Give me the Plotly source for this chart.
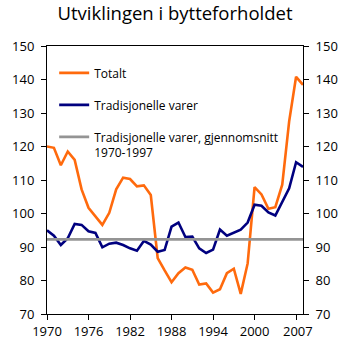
import plotly.graph_objects as go

years = list(range(1970, 2008))
totalt = [120, 119.6, 114.4, 118.5, 116, 107.2, 101.7, 99, 96.6, 100.2,
          107.2, 110.7, 110.3, 108.1, 108.4, 105.5, 86.7, 83, 79.5, 82.2,
          83.9, 83.2, 78.8, 79.1, 76.4, 77.4, 82.2, 83.5, 76.0, 85.1,
          107.9, 105.7, 101.4, 101.9, 108.6, 127.5, 140.8, 138.4]
tradisjonelle = [95, 93.4, 90.6, 92.6, 96.9, 96.6, 94.7, 94.2, 89.9, 91,
                 91.3, 90.6, 89.6, 88.9, 91.8, 90.7, 88.6, 89.1, 96.1, 97.3,
                 93, 93.1, 89.6, 88.2, 89.2, 95.2, 93.4, 94.2, 95.2, 97.3,
                 102.6, 102.3, 100.3, 99.4, 103.3, 107.5, 115.3, 113.9]
snitt_value = 92.3
snitt = [snitt_value] * len(years)

tick_pos = [1970, 1976, 1982, 1988, 1994, 2000, 2006.1]
tick_text = ["1970", "1976", "1982", "1988", "1994", "2000", ""]
last_label = "2007"
y_ticks = [70, 80, 90, 100, 110, 120, 130, 140, 150]

FONT = "Open Sans"
X0, X1 = 1970, 2007

fig = go.Figure()
fig.add_trace(go.Scatter(x=years, y=totalt, mode="lines", name="Totalt",
                         line=dict(color="#FF6A0D", width=2.6), legendgroup="a"))
fig.add_trace(go.Scatter(x=years, y=tradisjonelle, mode="lines", name="Tradisjonelle varer",
                         line=dict(color="#00007F", width=2.6), legendgroup="b"))
fig.add_trace(go.Scatter(x=years, y=snitt, mode="lines",
                         name="Tradisjonelle varer, gjennomsnitt<br>1970-1997",
                         line=dict(color="#949494", width=2.8), legendgroup="c"))
fig.add_trace(go.Scatter(x=years, y=snitt, yaxis="y2", mode="lines",
                         line=dict(width=0), showlegend=False, hoverinfo="skip"))

axis_common = dict(range=[70, 150], tickvals=y_ticks, ticks="outside", ticklen=5,
                   tickwidth=1, tickcolor="black", showline=True, linecolor="black",
                   linewidth=1, showgrid=False, zeroline=False, ticklabelstandoff=4,
                   tickfont=dict(family=FONT, size=13, color="black"))

fig.update_layout(
    width=350, height=352,
    margin=dict(l=32, r=33, t=46, b=28),
    paper_bgcolor="white", plot_bgcolor="white",
    title=dict(text="Utviklingen i bytteforholdet", x=0.5, xanchor="center",
               y=0.962, yanchor="middle",
               font=dict(family=FONT, size=18.5, color="black")),
    xaxis=dict(range=[X0, X1], tickvals=tick_pos, ticktext=tick_text,
               ticks="outside", ticklen=5, tickcolor="black", showline=True,
               linecolor="black", mirror=True, showgrid=False, zeroline=False,
               tickfont=dict(family=FONT, size=13, color="black")),
    yaxis=dict(side="left", **axis_common),
    yaxis2=dict(side="right", overlaying="y", anchor="x", **axis_common),
    legend=dict(x=0.028, y=0.953, xanchor="left", yanchor="top",
                bgcolor="rgba(0,0,0,0)", tracegroupgap=13, valign="top",
                font=dict(family=FONT, size=12, color="black"), itemwidth=30),
    annotations=[dict(text=last_label, x=(2008.7 - X0) / (X1 - X0), xref="paper",
                      y=0, yref="paper", yanchor="top", yshift=-6, showarrow=False,
                      font=dict(family=FONT, size=13, color="black"))],
    showlegend=True,
)

fig.write_html("out.html")
